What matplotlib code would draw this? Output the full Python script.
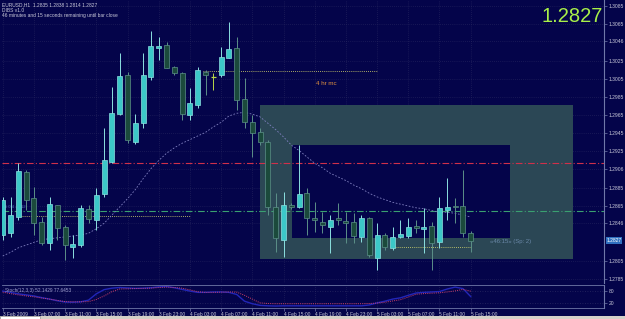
import matplotlib
matplotlib.use('Agg')
import matplotlib.pyplot as plt
import matplotlib.transforms as mtransforms
from matplotlib.patches import Rectangle

W, H = 625, 319

# hourly EURUSD bars, 3 Feb 03:00 -> 5 Feb 15:00
opens = [1.2833, 1.2835, 1.2853, 1.2902, 1.2874, 1.2847, 1.2824, 1.2866, 1.2842, 1.2820,
         1.2822, 1.2862, 1.2850, 1.2878, 1.2913, 1.2966, 1.3009, 1.2935, 1.2956, 1.3007,
         1.3039, 1.3042, 1.3018, 1.3011, 1.2965, 1.2976, 1.3012, 1.3007, 1.3009, 1.3028,
         1.3039, 1.2983, 1.2957, 1.2946, 1.2935, 1.2864, 1.2828, 1.2866, 1.2864, 1.2879,
         1.2852, 1.2847, 1.2842, 1.2852, 1.2849, 1.2847, 1.2831, 1.2852, 1.2808, 1.2833,
         1.2819, 1.2831, 1.2832, 1.2843, 1.2840, 1.2843, 1.2825, 1.2861, 1.2865, 1.2865,
         1.2835]
highs = [1.2875, 1.2875, 1.2912, 1.2905, 1.2886, 1.2853, 1.2875, 1.2866, 1.2844, 1.2833,
         1.2866, 1.2866, 1.2885, 1.2951, 1.2996, 1.3033, 1.3012, 1.2966, 1.3033, 1.3058,
         1.3051, 1.3045, 1.3019, 1.3012, 1.2995, 1.3018, 1.3015, 1.3011, 1.3040, 1.3067,
         1.3051, 1.3006, 1.2965, 1.2951, 1.2938, 1.2879, 1.2880, 1.2868, 1.2932, 1.2885,
         1.2869, 1.2858, 1.2855, 1.2868, 1.2858, 1.2857, 1.2855, 1.2853, 1.2846, 1.2835,
         1.2842, 1.2850, 1.2852, 1.2850, 1.2863, 1.2847, 1.2875, 1.2896, 1.2874, 1.2905,
         1.2838]
lows = [1.2828, 1.2831, 1.2850, 1.2861, 1.2833, 1.2822, 1.2817, 1.2828, 1.2806, 1.2808,
        1.2820, 1.2846, 1.2839, 1.2875, 1.2912, 1.2965, 1.2934, 1.2933, 1.2951, 1.3004,
        1.3026, 1.3017, 1.3009, 1.2960, 1.2960, 1.2973, 1.2987, 1.2993, 1.3007, 1.3028,
        1.2971, 1.2951, 1.2919, 1.2932, 1.2855, 1.2814, 1.2809, 1.2862, 1.2863, 1.2833,
        1.2836, 1.2835, 1.2813, 1.2844, 1.2824, 1.2824, 1.2825, 1.2809, 1.2795, 1.2817,
        1.2817, 1.2830, 1.2830, 1.2835, 1.2813, 1.2795, 1.2819, 1.2850, 1.2846, 1.2831,
        1.2814]
closes = [1.2872, 1.2855, 1.2904, 1.2872, 1.2846, 1.2824, 1.2867, 1.2841, 1.2822, 1.2823,
          1.2863, 1.2851, 1.2877, 1.2916, 1.2967, 1.3008, 1.2938, 1.2956, 1.3009, 1.3041,
          1.3041, 1.3017, 1.3011, 1.2966, 1.2978, 1.3015, 1.3009, 1.3007, 1.3029, 1.3038,
          1.2982, 1.2957, 1.2945, 1.2935, 1.2864, 1.2830, 1.2866, 1.2864, 1.2878, 1.2852,
          1.2850, 1.2844, 1.2850, 1.2850, 1.2846, 1.2832, 1.2852, 1.2811, 1.2833, 1.2820,
          1.2831, 1.2834, 1.2842, 1.2841, 1.2842, 1.2824, 1.2863, 1.2864, 1.2864, 1.2835,
          1.2827]

# slow moving average (dashed)
ma_vals = [1.2810, 1.2814, 1.2819, 1.2822, 1.2825, 1.2828, 1.2829, 1.2830, 1.2831, 1.2832,
           1.2833, 1.2835, 1.2840, 1.2846, 1.2855, 1.2864, 1.2873, 1.2883, 1.2895, 1.2906,
           1.2915, 1.2923, 1.2929, 1.2934, 1.2938, 1.2942, 1.2946, 1.2952, 1.2957, 1.2964,
           1.2967, 1.2968, 1.2966, 1.2963, 1.2956, 1.2949, 1.2941, 1.2932, 1.2926, 1.2919,
           1.2912, 1.2907, 1.2901, 1.2897, 1.2893, 1.2888, 1.2884, 1.2879, 1.2875, 1.2872,
           1.2869, 1.2867, 1.2865, 1.2863, 1.2862, 1.2860, 1.2858, 1.2858, 1.2857, 1.2855,
           1.2853]

# stochastic (12,3,3)
stoch_main = [78, 72, 65, 60, 55, 47, 40, 32, 26, 25, 27, 35, 65, 85, 92, 95, 93, 91, 92, 94,
              98, 100, 94, 86, 78, 72, 72, 74, 74, 72, 62, 30, 18, 10, 8, 7, 8, 8, 8, 8,
              8, 8, 8, 8, 8, 8, 8, 12, 22, 30, 40, 46, 58, 69, 72, 74, 76, 88, 97, 90, 52.14]
stoch_signal = [73, 66, 60, 55, 51, 45, 40, 34, 28, 27, 27, 28, 38, 55, 75, 88, 89, 90, 91, 92,
                95, 97, 95, 92, 84, 75, 72, 72, 73, 74, 73, 58, 40, 22, 19, 18, 18, 18, 18, 18,
                18, 18, 18, 18, 18, 18, 18, 19, 21, 25, 31, 37, 50, 63, 66, 68, 70, 74, 79, 86, 77.65]

price_ticks = [1.3085, 1.3065, 1.3046, 1.3025, 1.3005, 1.2985, 1.2965, 1.2945, 1.2925,
               1.2906, 1.2885, 1.2865, 1.2846, 1.2805, 1.2785]
time_labels = ['3 Feb 2009', '3 Feb 07:00', '3 Feb 11:00', '3 Feb 15:00', '3 Feb 19:00',
               '3 Feb 23:00', '4 Feb 03:00', '4 Feb 07:00', '4 Feb 11:00', '4 Feb 15:00',
               '4 Feb 19:00', '4 Feb 23:00', '5 Feb 03:00', '5 Feb 07:00', '5 Feb 11:00',
               '5 Feb 15:00']

red_level = 1.2912
green_level = 1.2860
dotted_levels = [(2.2, 24.0, 1.2854), (25.7, 48.1, 1.3014), (50.0, 60.0, 1.2820)]
outer_box = (33.0, 73.1, 1.28067, 1.29761)
inner_box = (37.05, 65.04, 1.28298, 1.29321)

BG = '#04044a'
GRID = '#2a2a62'
AXC = '#7078a8'
TXT = '#c8c8d8'
BULL = '#3cc8c8'
BULL_EDGE = '#8ce0e0'
BEAR = '#1b4a3c'
BEAR_EDGE = '#5c9088'

plt.rcParams['font.family'] = ['Liberation Sans', 'DejaVu Sans']

fig = plt.figure(figsize=(W / 100, H / 100), dpi=100, facecolor=BG)

def px_axes(x0, y0, x1, y1):
    return fig.add_axes([x0 / W, 1 - y1 / H, (x1 - x0) / W, (y1 - y0) / H])

ax = px_axes(2, 0, 604, 283)
ax_st = px_axes(2, 285, 604, 308)

xmin, xmax = -0.09, 77.09
for a in (ax, ax_st):
    a.set_facecolor(BG)
    a.set_xlim(xmin, xmax)
    for s in ('left', 'bottom', 'top'):
        a.spines[s].set_visible(False)
    a.spines['right'].set_color(AXC)
    a.spines['right'].set_linewidth(0.8)

ax.set_ylim(1.27803, 1.30916)
ax_st.set_ylim(-2.4, 107)
for s in ('top', 'bottom'):
    ax_st.spines[s].set_visible(True)
    ax_st.spines[s].set_color(AXC)
    ax_st.spines[s].set_linewidth(0.6)

grid_x = [4 * i for i in range(len(time_labels))]
for a in (ax, ax_st):
    for gx in grid_x:
        a.axvline(gx, color=GRID, lw=0.5, ls=(0, (1, 2)), zorder=0)
for p in price_ticks:
    ax.axhline(p, color=GRID, lw=0.5, ls=(0, (1, 2)), zorder=0)

# box zone
x0, x1, y0, y1 = outer_box
ax.add_patch(Rectangle((x0, y0), x1 - x0, y1 - y0, facecolor='#2b4755', edgecolor='none', zorder=1))
x0, x1, y0, y1 = inner_box
ax.add_patch(Rectangle((x0, y0), x1 - x0, y1 - y0, facecolor=BG, edgecolor='none', zorder=1))

ax.axhline(red_level, color='#d0304a', lw=0.8, ls=(0, (6, 2, 1, 2)), zorder=2)
ax.axhline(green_level, color='#3aa070', lw=0.8, ls=(0, (6, 2, 1, 2)), zorder=2)
for a0, a1, lv in dotted_levels:
    ax.plot([a0, a1], [lv, lv], color='#e0e070', lw=0.6, ls=(0, (1, 1.5)), zorder=2)

bars = range(len(opens))
ax.plot(list(bars), ma_vals, color='#8080c0', lw=0.6, ls=(0, (2, 2)), zorder=3)

bw = 0.66
for k in bars:
    o, h, l, c = opens[k], highs[k], lows[k], closes[k]
    if c > o:
        face, edge = BULL, BULL_EDGE
    elif c < o:
        face, edge = BEAR, BEAR_EDGE
    else:
        face, edge = '#b8d848', '#b8d848'
    ax.vlines(k, l, h, color=edge, lw=0.7, zorder=4)
    if c == o:
        ax.hlines(o, k - bw / 2, k + bw / 2, color=edge, lw=0.9, zorder=5)
    else:
        ax.add_patch(Rectangle((k - bw / 2, min(o, c)), bw, abs(c - o),
                               facecolor=face, edgecolor=edge, lw=0.5, zorder=5))

ax.text(41.5, 1.3000, '4 hr mc', color='#e09040', fontsize=4.5, ha='center', va='center')
ax.text(62.5, 1.28255, '\u00ab46:15\u00bb (Sp: 2)', color='#6a88a8', fontsize=4.3,
        ha='left', va='center')
ax.text(0.3, 1.2864, '# 0.4 - 2:12', color='#5070c0', fontsize=3, ha='left', va='center')

ax.yaxis.tick_right()
ax.set_yticks(price_ticks)
ax.set_yticklabels(['%.4f' % p for p in price_ticks])
ax.tick_params(axis='y', colors=AXC, labelcolor=TXT, labelsize=3.6, length=2, width=0.5, pad=1.5)
ax.set_xticks([])

ytr = mtransforms.blended_transform_factory(ax.transAxes, ax.transData)
ax.text(1.004, closes[-1], '%.4f' % closes[-1], transform=ytr, color='white', fontsize=3.6,
        ha='left', va='center', bbox=dict(facecolor='#3070c0', edgecolor='none', pad=0.6))

# stochastic panel
ax_st.axhline(80, color=GRID, lw=0.6, ls=(0, (1, 2)), zorder=0)
ax_st.axhline(20, color=GRID, lw=0.6, ls=(0, (1, 2)), zorder=0)
ax_st.plot(list(bars), stoch_main, color='#2226b8', lw=1.0, zorder=2)
ax_st.plot(list(bars), stoch_signal, color='#d0406a', lw=0.7, ls=(0, (1, 1.2)), zorder=3)
ax_st.text(0.005, 0.78, 'Stoch(12,3,3) 52.1429 77.6453', transform=ax_st.transAxes,
           color='#a0a0d0', fontsize=3.4, ha='left', va='center')
ax_st.yaxis.tick_right()
ax_st.set_yticks([80, 20])
ax_st.set_yticklabels(['80', '20'])
ax_st.tick_params(axis='y', colors=AXC, labelcolor=TXT, labelsize=3.6, length=2, width=0.5, pad=1.5)
ax_st.set_xticks(grid_x)
ax_st.set_xticklabels(time_labels)
ax_st.tick_params(axis='x', colors=AXC, labelcolor=TXT, labelsize=3.5, length=2, width=0.5, pad=1)
for lab in ax_st.get_xticklabels():
    lab.set_horizontalalignment('left')

# header texts
fig.text(2 / W, 1 - 5 / H, 'EURUSD,H1  1.2835 1.2838 1.2814 1.2827', color=TXT, fontsize=3.5,
         ha='left', va='center')
fig.text(2 / W, 1 - 10.5 / H, 'DIBS v1.0', color=TXT, fontsize=3.5, ha='left', va='center')
fig.text(2 / W, 1 - 16 / H, '46 minutes and 15 seconds remaining until bar close', color=TXT,
         fontsize=3.5, ha='left', va='center')
fig.text(603 / W, 1 - 16 / H, '%.4f' % closes[-1], color='#a8f048', fontsize=14.5,
         ha='right', va='center')

# status bar strip at bottom
fig.patches.append(Rectangle((0, 0), 1, 3 / H, transform=fig.transFigure,
                             facecolor='#d4d0c8', edgecolor='none'))
fig.patches.append(Rectangle((0, 0), 40 / W, 3 / H, transform=fig.transFigure,
                             facecolor='#ffffff', edgecolor='#808080', lw=0.4))

fig.savefig('out.png', dpi=100, facecolor=BG)
